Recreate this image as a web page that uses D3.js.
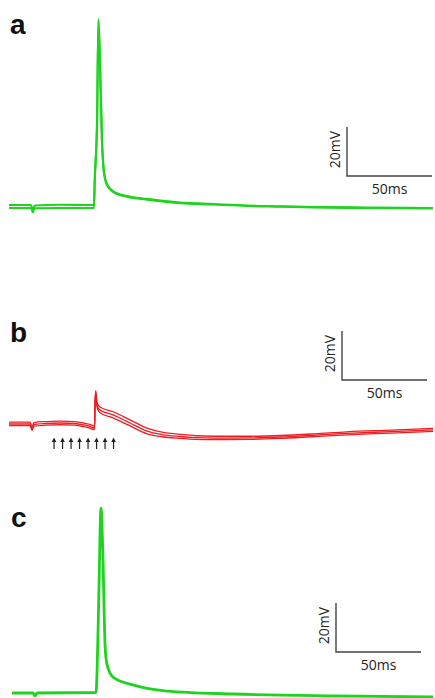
<!DOCTYPE html>
<html>
<head>
<meta charset="utf-8">
<script src="https://cdn.jsdelivr.net/npm/d3@7"></script>
<style>
  body { margin: 0; background: #fff; }
  svg { display: block; }
</style>
</head>
<body>
<svg id="chart" width="435" height="698"></svg>
<script>
// sweeps, time in ms, membrane potential in mV
const aTime = [0, 12.9, 13.6, 14.1, 14.7, 15.3, 30, 50, 50.4, 51.8, 52.6, 53.5, 54.7, 55.9, 57.6, 61.2, 69.4, 81.2, 100.6, 120, 140, 160, 178.8, 210, 249.4];
const aSweep1 = [-69.2, -69.2, -70.5, -71.4, -70.0, -69.4, -69.1, -69.2, -59.5, -34.5, 6.7, -10, -42.7, -55.7, -60.6, -63.5, -65.5, -66.7, -68.2, -68.8, -69.4, -69.7, -70.0, -70.2, -70.4];
const aSweep2 = [-70.4, -70.4, -71.5, -72.2, -71.0, -70.5, -70.4, -70.4, -60, -36, 5.8, -11.5, -43.5, -56.2, -61, -63.8, -65.8, -67, -68.4, -69.0, -69.6, -69.9, -70.2, -70.4, -70.6];

const bTime = [0, 12.4, 13.5, 14.7, 22, 30, 38.8, 44, 47.6, 50.3, 50.6, 51.0, 51.4, 52.0, 53.5, 61.2, 71.2, 81.2, 90, 100.6, 110, 120, 142, 160, 180, 198.8, 225, 249.4];
const bSweep1 = [-69.2, -69.2, -71.1, -69.4, -69.0, -68.8, -69.0, -69.6, -70.2, -70.8, -61.5, -56.4, -59.2, -61.6, -63.1, -65.0, -68.3, -71.7, -73.3, -74.2, -74.8, -75.0, -75.0, -74.7, -74.0, -73.2, -72.5, -71.8];
const bSweep2 = [-70, -70, -72, -70.2, -69.8, -69.6, -69.8, -70.4, -71.0, -71.6, -62.2, -56.9, -60.2, -62.7, -64.3, -66.3, -69.6, -72.9, -74.3, -75.1, -75.6, -75.8, -75.7, -75.3, -74.5, -73.8, -73.1, -72.4];
const bSweep3 = [-70.7, -70.7, -72.6, -70.9, -70.5, -70.3, -70.5, -71.1, -71.7, -72.3, -63.0, -57.5, -61.0, -63.7, -65.4, -67.5, -70.8, -74.0, -75.2, -75.9, -76.3, -76.4, -76.3, -75.9, -75.1, -74.4, -73.7, -73.0];
const bStimTimes = [26.5, 31.5, 36.5, 41.5, 46.5, 51.5, 56.5, 61.5];

const cTime = [1.8, 14.1, 15.3, 16.5, 51.2, 51.8, 52.9, 54.1, 55.3, 56.5, 57.6, 61.2, 72.9, 92.9, 131.8, 190.6, 249.4];
const cSweep = [-70, -70, -71.2, -70, -69.8, -61.4, -28, 5.5, -15.7, -50.4, -58.2, -63.5, -66.7, -69.2, -70.4, -71.2, -71.6];

const scaleBarMs = 50, scaleBarMv = 20;

const svg = d3.select("#chart");
const pxPerMv = 2.45;

const x = d3.scaleLinear().domain([0, 250]).range([9, 9 + 250 * 1.7]);

const panels = [
  { label: "a", base: 207, labelX: 10, labelY: 34, bar: [347, 176], color: "#1ed41e", width: 2.1,
    sweeps: [[aTime, aSweep1], [aTime, aSweep2]] },
  { label: "b", base: 424, labelX: 10, labelY: 342, bar: [342, 380], color: "#ee1d23", width: 1.3,
    sweeps: [[bTime, bSweep1], [bTime, bSweep2], [bTime, bSweep3]] },
  { label: "c", base: 693, labelX: 11, labelY: 527, bar: [336, 652], color: "#1ed41e", width: 2.8,
    sweeps: [[cTime, cSweep]] }
];

panels.forEach(p => {
  const y = d3.scaleLinear().domain([-70, 10]).range([p.base, p.base - 80 * pxPerMv]);
  const g = svg.append("g");

  const line = d3.line()
    .curve(d3.curveMonotoneX)
    .x(d => x(d[0]))
    .y(d => y(d[1]));

  p.sweeps.forEach(([t, v]) => {
    g.append("path")
      .datum(t.map((ti, i) => [ti, v[i]]))
      .attr("fill", "none")
      .attr("stroke", p.color)
      .attr("stroke-width", p.width)
      .attr("stroke-linejoin", "round")
      .attr("d", line);
  });

  g.append("text")
    .attr("x", p.labelX)
    .attr("y", p.labelY)
    .style("font-family", "'Liberation Sans', Arial, sans-serif")
    .style("font-weight", "bold")
    .style("font-size", "28px")
    .attr("fill", "#111")
    .text(p.label);

  // scale bar
  const [bx, by] = p.bar;
  const w = x(scaleBarMs) - x(0);
  const h = y(-70) - y(-70 + scaleBarMv);
  g.append("path")
    .attr("d", `M${bx},${by - h}V${by}H${bx + w}`)
    .attr("fill", "none")
    .attr("stroke", "#444")
    .attr("stroke-width", 1.4);

  g.append("text")
    .attr("x", bx + w / 2)
    .attr("y", by + 18)
    .attr("text-anchor", "middle")
    .style("font-family", "'Open Sans', sans-serif")
    .style("font-size", "14px")
    .attr("fill", "#222")
    .text(scaleBarMs + "ms");

  g.append("text")
    .attr("transform", `translate(${bx - 7},${by - h / 2 - 2}) rotate(-90)`)
    .attr("text-anchor", "middle")
    .style("font-family", "'Open Sans', sans-serif")
    .style("font-size", "14px")
    .attr("fill", "#222")
    .text(scaleBarMv + "mV");
});

// stimulus arrows under panel b
const arrows = svg.append("g");
bStimTimes.forEach(t => {
  const ax = x(t);
  arrows.append("line")
    .attr("x1", ax).attr("x2", ax)
    .attr("y1", 441).attr("y2", 449)
    .attr("stroke", "#222")
    .attr("stroke-width", 1.2);
  arrows.append("path")
    .attr("d", `M${ax - 2.3},${442}L${ax},${437.5}L${ax + 2.3},${442}Z`)
    .attr("fill", "#222");
});
</script>
</body>
</html>
